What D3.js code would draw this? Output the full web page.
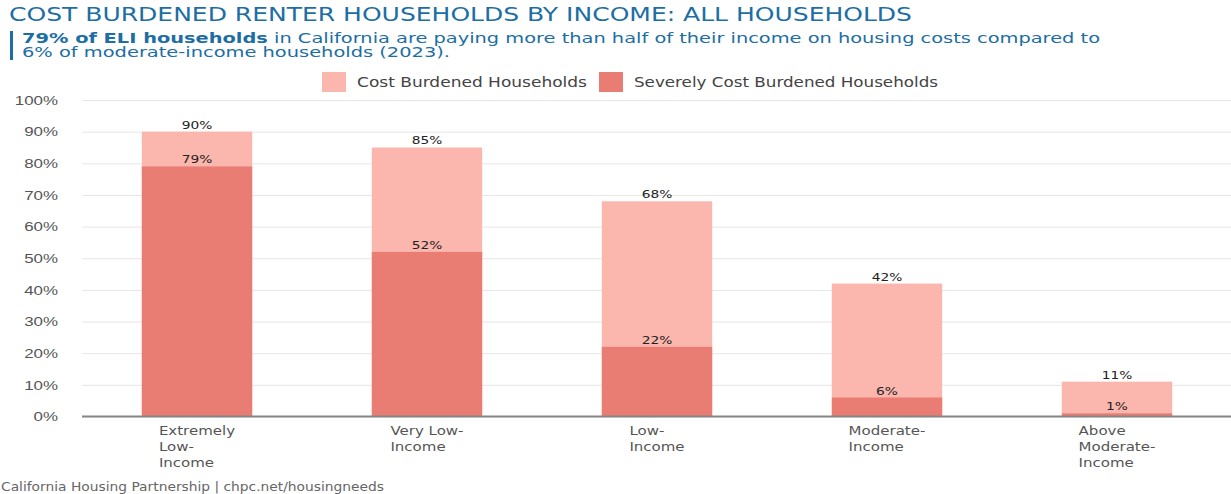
<!DOCTYPE html>
<html>
<head>
<meta charset="utf-8">
<script src="https://cdn.jsdelivr.net/npm/d3@7"></script>
<style>
  body { margin: 0; background: #fff; }
  svg { display: block; font-family: "DejaVu Sans", sans-serif; }
</style>
</head>
<body>
<svg></svg>
<script>
const categories = [
    ['Extremely', 'Low-', 'Income'],
    ['Very Low-', 'Income'],
    ['Low-', 'Income'],
    ['Moderate-', 'Income'],
    ['Above', 'Moderate-', 'Income']
];
const costBurdened = [90, 85, 68, 42, 11];
const severelyBurdened = [79, 52, 22, 6, 1];
const yTicks = [0, 10, 20, 30, 40, 50, 60, 70, 80, 90, 100];
const legendLabels = ['Cost Burdened Households', 'Severely Cost Burdened Households'];

const width = 1231;
const height = 494;
const lightColor = '#fbb6ae';
const darkColor = '#e97c73';
const blue = '#1c6ea4';

let svg = d3.select('svg')
            .attr('width', width)
            .attr('height', height);

// the reference font is much wider than DejaVu, so widen text horizontally
function stretch(sel, k) {
    sel.each(function () {
        let w = this.getComputedTextLength();
        d3.select(this)
            .attr('textLength', w * k)
            .attr('lengthAdjust', 'spacingAndGlyphs');
    });
}

// title + subtitle
svg.append('text')
    .attr('x', 9)
    .attr('y', 21)
    .attr('fill', blue)
    .style('font-size', '19px')
    .text('COST BURDENED RENTER HOUSEHOLDS BY INCOME: ALL HOUSEHOLDS')
    .attr('textLength', 903)
    .attr('lengthAdjust', 'spacingAndGlyphs');

svg.append('rect')
    .attr('x', 10).attr('y', 31)
    .attr('width', 3).attr('height', 29)
    .attr('fill', blue);

let sub1 = svg.append('text')
    .attr('x', 22).attr('y', 43)
    .attr('fill', blue)
    .style('font-size', '14px');
sub1.append('tspan').style('font-weight', 'bold').text('79% of ELI households');
sub1.append('tspan').text(' in California are paying more than half of their income on housing costs compared to');
sub1.attr('textLength', 1078).attr('lengthAdjust', 'spacingAndGlyphs');

svg.append('text')
    .attr('x', 22).attr('y', 57)
    .attr('fill', blue)
    .style('font-size', '14px')
    .text('6% of moderate-income households (2023).')
    .attr('textLength', 428)
    .attr('lengthAdjust', 'spacingAndGlyphs');

// scales
let x = d3.scaleBand()
    .domain(d3.range(categories.length))
    .range([82, 1232])
    .paddingInner(0.52)
    .paddingOuter(0.26);

let y = d3.scaleLinear()
    .domain([0, 100])
    .range([416.5, 100]);

// grid
let yAxis = d3.axisLeft(y)
    .tickValues(yTicks)
    .tickSize(-(1231 - 82))
    .tickPadding(24)
    .tickFormat(d => d + '%');

let gy = svg.append('g')
    .attr('transform', 'translate(82,0)')
    .call(yAxis);
gy.select('.domain').remove();
gy.selectAll('.tick line').attr('stroke', '#e6e6e6');
gy.selectAll('.tick text')
    .attr('fill', '#555')
    .style('font-size', '13px')
    .call(stretch, 1.3);

// bars
let bars = svg.append('g');
bars.selectAll('rect.light')
    .data(costBurdened)
    .join('rect')
    .attr('class', 'light')
    .attr('x', (d, i) => x(i))
    .attr('width', x.bandwidth())
    .attr('y', d => y(d))
    .attr('height', d => y(0) - y(d))
    .attr('fill', lightColor);

bars.selectAll('rect.dark')
    .data(severelyBurdened)
    .join('rect')
    .attr('class', 'dark')
    .attr('x', (d, i) => x(i))
    .attr('width', x.bandwidth())
    .attr('y', d => y(d))
    .attr('height', d => y(0) - y(d))
    .attr('fill', darkColor);

// value labels
let labels = svg.append('g')
    .attr('text-anchor', 'middle')
    .attr('fill', '#222')
    .style('font-size', '11px');
labels.selectAll('text.cb')
    .data(costBurdened)
    .join('text')
    .attr('class', 'cb')
    .attr('x', (d, i) => x(i) + x.bandwidth() / 2)
    .attr('y', d => y(d) - 3)
    .text(d => d + '%');
labels.selectAll('text.sb')
    .data(severelyBurdened)
    .join('text')
    .attr('class', 'sb')
    .attr('x', (d, i) => x(i) + x.bandwidth() / 2)
    .attr('y', d => y(d) - 3)
    .text(d => d + '%');
labels.selectAll('text').call(stretch, 1.25);

// baseline
svg.append('line')
    .attr('x1', 82).attr('x2', 1231)
    .attr('y1', y(0)).attr('y2', y(0))
    .attr('stroke', '#858585')
    .attr('stroke-width', 2);

// category labels (block centered, lines left aligned)
categories.forEach((lines, i) => {
    let sel = svg.append('g')
        .attr('fill', '#555')
        .style('font-size', '12.5px')
        .selectAll('text')
        .data(lines)
        .join('text')
        .attr('y', (d, j) => 435 + j * 16)
        .text(d => d)
        .call(stretch, 1.2);
    let w = d3.max(sel.nodes(), n => +n.getAttribute('textLength'));
    sel.attr('x', x(i) + x.bandwidth() / 2 - w / 2);
});

// legend
let legend = svg.append('g').style('font-size', '14px').attr('fill', '#444');
let lx = [322, 599];
let lw = [230, 304];
legendLabels.forEach((s, i) => {
    legend.append('rect')
        .attr('x', lx[i]).attr('y', 72)
        .attr('width', 24).attr('height', 20)
        .attr('fill', i === 0 ? lightColor : darkColor);
    legend.append('text')
        .attr('x', lx[i] + 35).attr('y', 87)
        .text(s)
        .attr('textLength', lw[i])
        .attr('lengthAdjust', 'spacingAndGlyphs');
});

// footer
svg.append('text')
    .attr('x', 1)
    .attr('y', 491)
    .attr('fill', '#666')
    .style('font-size', '11.5px')
    .text('California Housing Partnership | chpc.net/housingneeds')
    .call(stretch, 1.2);
</script>
</body>
</html>
